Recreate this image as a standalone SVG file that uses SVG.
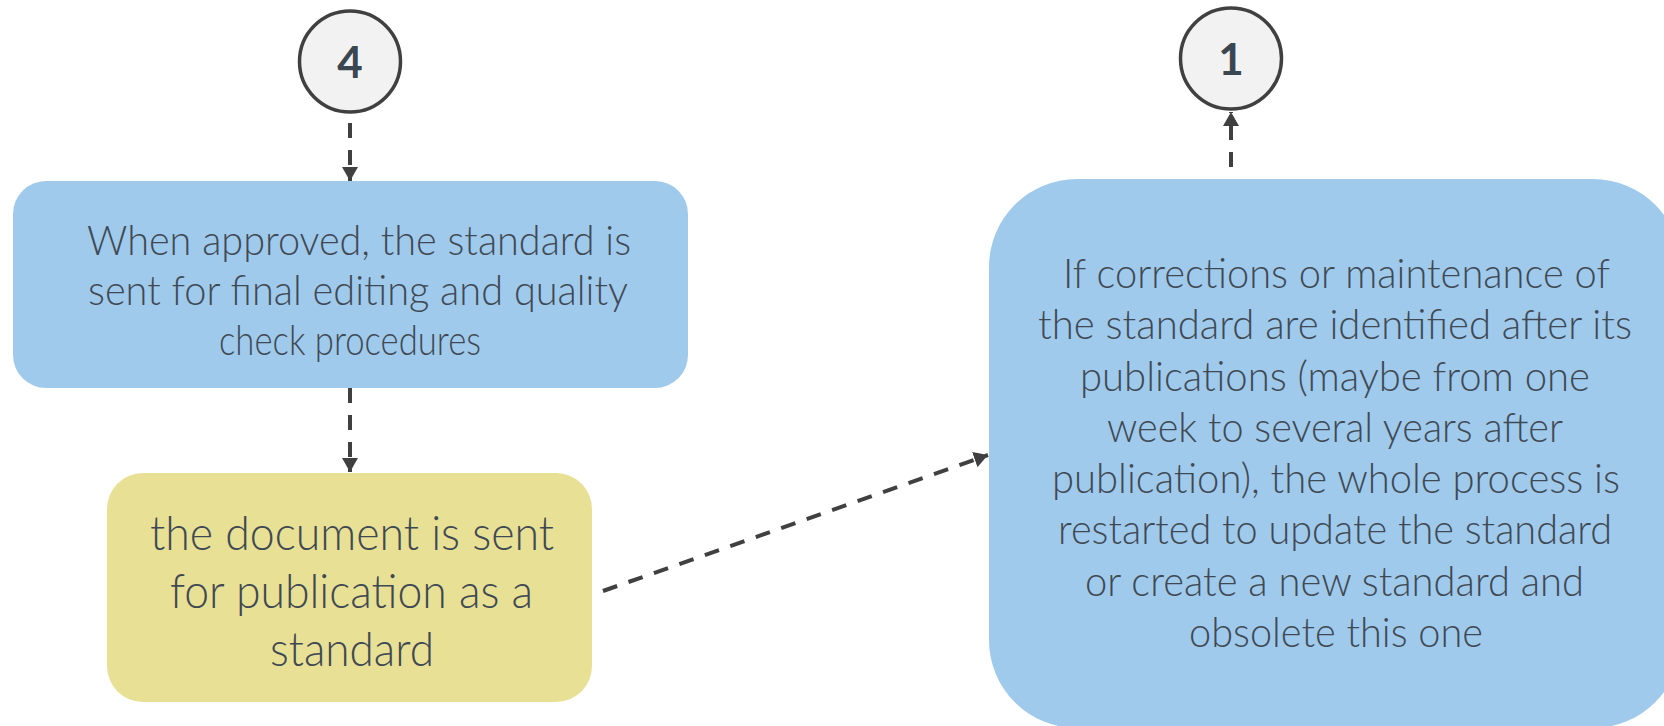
<svg xmlns="http://www.w3.org/2000/svg" width="1664" height="726" viewBox="0 0 1664 726">
<style>
.blue{fill:#A0CAEC}
.yellow{fill:#E8E095}
.circ{fill:#F2F2F2;stroke:#404040;stroke-width:3.5}
.t{font-family:Lato,"Open Sans","Liberation Sans",sans-serif;font-weight:300;fill:#3F4953}
.s42{font-size:42px}
.s48{font-size:48px}
.num{font-family:Lato,"Liberation Sans",sans-serif;font-weight:700;font-size:44px;fill:#3A4650;text-anchor:middle}
.conn{stroke:#404040;stroke-width:4;stroke-dasharray:15 12;fill:none}
</style>
<defs>
<marker id="ah" markerUnits="userSpaceOnUse" markerWidth="15" markerHeight="16" refX="14" refY="8" orient="auto">
<path d="M0,0 L14,8 L0,16 z" fill="#404040"/>
</marker>
</defs>
<rect width="1664" height="726" fill="#FFFFFF"/>
<g id="connectors">
<line class="conn" x1="350" y1="123" x2="350" y2="181" marker-end="url(#ah)"/>
<line class="conn" x1="350" y1="388" x2="350" y2="472" marker-end="url(#ah)"/>
<line class="conn" x1="603" y1="591" x2="988" y2="455" marker-end="url(#ah)"/>
<line class="conn" x1="1231" y1="167" x2="1231" y2="112" marker-end="url(#ah)" stroke-dasharray="15 14"/>
</g>
<g id="node-circle-4">
<circle class="circ" cx="350" cy="61.5" r="50.5"/>
<text class="num" x="350" y="78">4</text>
</g>
<g id="node-circle-1">
<circle class="circ" cx="1231" cy="58.5" r="50.5"/>
<text class="num" x="1231" y="75">1</text>
</g>
<g id="node-approved">
<rect class="blue" x="13" y="181" width="675" height="207" rx="33"/>
<text class="t s42" x="87" y="255" textLength="544" lengthAdjust="spacingAndGlyphs">When approved, the standard is</text>
<text class="t s42" x="88" y="305" textLength="540" lengthAdjust="spacingAndGlyphs">sent for final editing and quality</text>
<text class="t s42" x="219" y="355" textLength="262" lengthAdjust="spacingAndGlyphs">check procedures</text>
</g>
<g id="node-publication">
<rect class="yellow" x="107" y="473" width="485" height="229" rx="36"/>
<text class="t s48" x="150" y="550" textLength="404" lengthAdjust="spacingAndGlyphs">the document is sent</text>
<text class="t s48" x="170" y="608" textLength="363" lengthAdjust="spacingAndGlyphs">for publication as a</text>
<text class="t s48" x="270" y="666" textLength="164" lengthAdjust="spacingAndGlyphs">standard</text>
</g>
<g id="node-corrections">
<rect class="blue" x="989" y="179" width="692" height="549" rx="88"/>
<text class="t s42" x="1063" y="288" textLength="547" lengthAdjust="spacingAndGlyphs">If corrections or maintenance of</text>
<text class="t s42" x="1038" y="339" textLength="594" lengthAdjust="spacingAndGlyphs">the standard are identified after its</text>
<text class="t s42" x="1080" y="391" textLength="510" lengthAdjust="spacingAndGlyphs">publications (maybe from one</text>
<text class="t s42" x="1107" y="442" textLength="456" lengthAdjust="spacingAndGlyphs">week to several years after</text>
<text class="t s42" x="1052" y="493" textLength="568" lengthAdjust="spacingAndGlyphs">publication), the whole process is</text>
<text class="t s42" x="1058" y="544" textLength="554" lengthAdjust="spacingAndGlyphs">restarted to update the standard</text>
<text class="t s42" x="1085" y="596" textLength="499" lengthAdjust="spacingAndGlyphs">or create a new standard and</text>
<text class="t s42" x="1189" y="647" textLength="294" lengthAdjust="spacingAndGlyphs">obsolete this one</text>
</g>
</svg>
